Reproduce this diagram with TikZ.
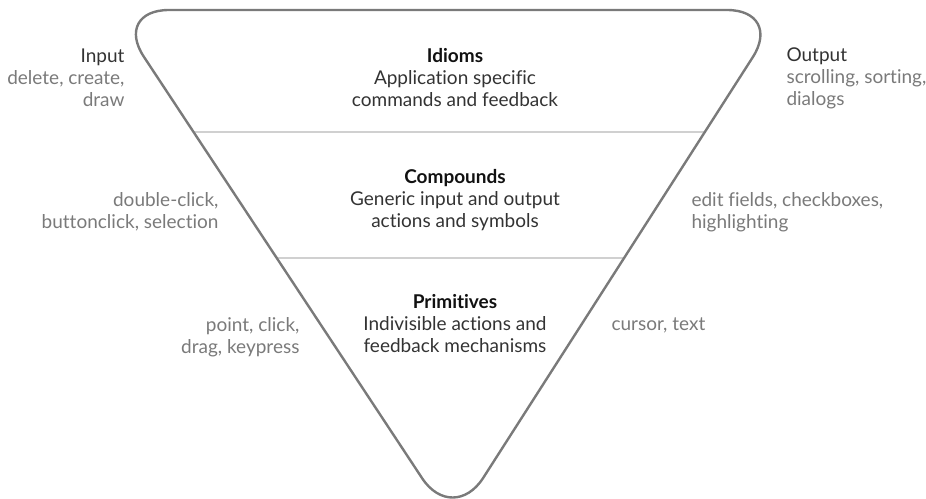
\documentclass[tikz,border=0pt]{standalone}
\usepackage{fontspec}
\setmainfont{Lato}[Ligatures={NoCommon}]
\usetikzlibrary{calc}
\definecolor{edgegray}{HTML}{7A7A7A}
\definecolor{rulegray}{HTML}{D0D0D0}
\definecolor{titleblack}{HTML}{111111}
\definecolor{descgray}{HTML}{333333}
\definecolor{sidegray}{HTML}{7A7A7A}

\begin{document}
\begin{tikzpicture}[x=1pt, y=-1pt,
  level/.style={align=center, text=descgray, font=\fontsize{19}{22}\selectfont},
  sidel/.style={align=right, anchor=east, text=sidegray, font=\fontsize{19}{22}\selectfont},
  sider/.style={align=left, anchor=west, text=sidegray, font=\fontsize{19}{22}\selectfont}]
  \useasboundingbox (0,0) rectangle (926,498);
  % corners of the inverted triangle
  \coordinate (tl) at (113,10);
  \coordinate (tr) at (783,10);
  \coordinate (apex) at (453,525);
  % dividers between the levels
  \draw[rulegray, line width=2] ($(tl)!0.237!(apex)$) -- ($(tr)!0.237!(apex)$);
  \draw[rulegray, line width=2] ($(tl)!0.4816!(apex)$) -- ($(tr)!0.4816!(apex)$);
  \draw[edgegray, line width=2.4, rounded corners=56] (tl) -- (tr) -- (apex) -- cycle;
  % levels
  \node[level] (idioms) at (455,78) {\textcolor{titleblack}{\bfseries Idioms}\\ Application specific\\ commands and feedback};
  \node[level] (compounds) at (455,200) {\textcolor{titleblack}{\bfseries Compounds}\\ Generic input and output\\ actions and symbols};
  \node[level] (primitives) at (455,324) {\textcolor{titleblack}{\bfseries Primitives}\\ Indivisible actions and\\ feedback mechanisms};
  % left side
  \node[sidel] (input) at (128,78) {\textcolor{descgray}{Input}\\ delete, create,\\ draw};
  \node[sidel] (inmid) at (222,212) {double-click,\\ buttonclick, selection};
  \node[sidel] (inlow) at (303,337) {point, click,\\ drag, keypress};
  % right side
  \node[sider] (output) at (783,78) {\textcolor{descgray}{Output}\\ scrolling, sorting,\\ dialogs};
  \node[sider] (outmid) at (688,212) {edit fields, checkboxes,\\ highlighting};
  \node[sider] (outlow) at (608,325) {cursor, text};
\end{tikzpicture}
\end{document}
